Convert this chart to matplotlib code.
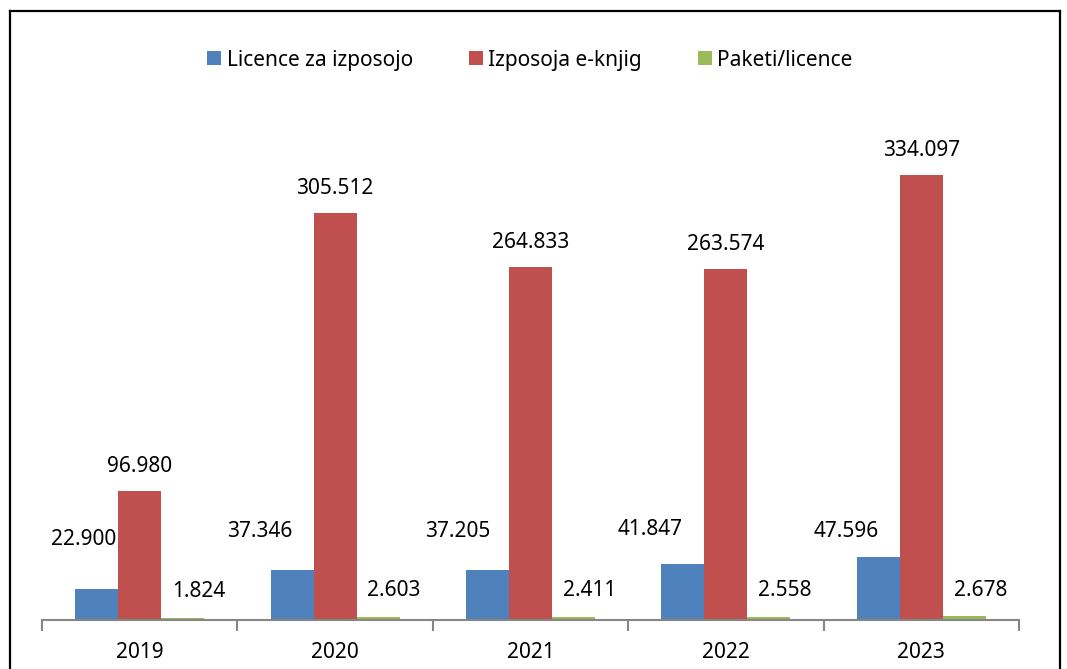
import matplotlib.pyplot as plt
from matplotlib.lines import Line2D
import numpy as np

# Data
years = ['2019', '2020', '2021', '2022', '2023']
licence = [22900, 37346, 37205, 41847, 47596]
izposoja = [96980, 305512, 264833, 263574, 334097]
paketi = [1824, 2603, 2411, 2558, 2678]

series_names = ['Licence za izposojo', 'Izposoja e-knjig', 'Paketi/licence']
colors = ['#4F81BD', '#C0504D', '#9BBB59']

plt.rcParams['font.family'] = ['Noto Sans', 'DejaVu Sans']

def fmt(v):
    return f'{v:,.0f}'.replace(',', '.')

fig = plt.figure(figsize=(10.67, 6.69), dpi=100)
ax = fig.add_axes([0.0394, 0.0732, 0.9157, 0.7773])

x = np.arange(len(years))
w = 0.22
all_series = [licence, izposoja, paketi]
offsets = [-w, 0, w]

bars = []
for vals, off, col, name in zip(all_series, offsets, colors, series_names):
    b = ax.bar(x + off, vals, width=w, color=col, label=name, edgecolor='none')
    bars.append(b)

# label nudges in pixels (dx, dy above bar top)
blue_nudge = [(-13, 50), (-32, 39), (-30, 39), (-33, 35), (-32, 25)]
for i, v in enumerate(licence):
    dx, dy = blue_nudge[i]
    ax.annotate(fmt(v), (x[i] - w, v), xytext=(dx, dy), textcoords='offset pixels',
                ha='center', va='center', fontsize=15)
for i, v in enumerate(izposoja):
    ax.annotate(fmt(v), (x[i], v), xytext=(0, 24), textcoords='offset pixels',
                ha='center', va='center', fontsize=15)
for i, v in enumerate(paketi):
    ax.annotate(fmt(v), (x[i] + w, v), xytext=(16, 26), textcoords='offset pixels',
                ha='center', va='center', fontsize=15)

ax.set_xlim(-0.5, len(years) - 0.5)
ax.set_ylim(0, 390000)
ax.set_yticks([])
for s in ['top', 'right', 'left']:
    ax.spines[s].set_visible(False)
ax.spines['bottom'].set_color('#868686')
ax.spines['bottom'].set_linewidth(1.5)

# ticks between categories, labels centred
ax.set_xticks(np.arange(-0.5, len(years)), minor=False)
ax.set_xticklabels([''] * (len(years) + 1))
ax.tick_params(axis='x', which='major', length=8, width=1.5, color='#868686', direction='out')
ax.set_xticks(x, minor=True)
ax.set_xticklabels(years, minor=True, fontsize=15)
ax.tick_params(axis='x', which='minor', length=0, pad=16)

fig.legend(handles=bars, labels=series_names, loc='center', bbox_to_anchor=(0.4967, 0.910),
           ncol=3, frameon=False, fontsize=15, handlelength=0.67, handleheight=0.67,
           handletextpad=0.25, columnspacing=2.7)

# outer border (left, top, right)
fh, fw = 669.0, 1067.0
lw = 1.6
fig.add_artist(Line2D([10 / fw, 10 / fw], [0, 1 - 11 / fh], transform=fig.transFigure, color='black', lw=lw))
fig.add_artist(Line2D([10 / fw, 1060 / fw], [1 - 11 / fh, 1 - 11 / fh], transform=fig.transFigure, color='black', lw=lw))
fig.add_artist(Line2D([1060 / fw, 1060 / fw], [0, 1 - 11 / fh], transform=fig.transFigure, color='black', lw=lw))

fig.savefig('out.png', dpi=100)
